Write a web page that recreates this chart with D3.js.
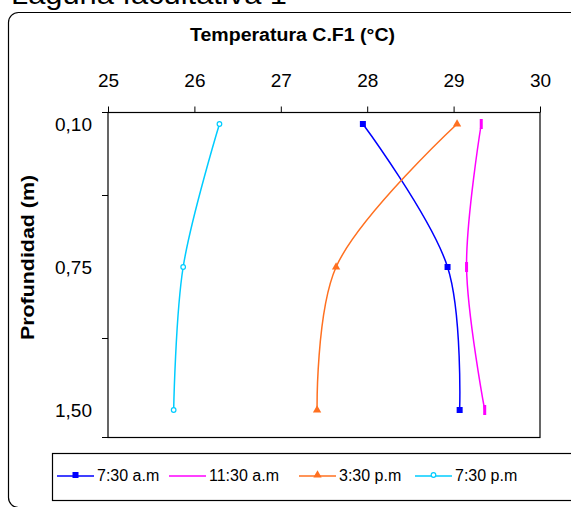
<!DOCTYPE html>
<html><head><meta charset="utf-8">
<script src="https://cdn.jsdelivr.net/npm/d3@7"></script>
<style>body{margin:0;background:#fff}svg{display:block}text{font-family:"Liberation Sans",Arial,sans-serif}</style>
</head><body>
<svg id="c" width="571" height="507"></svg>
<script>
const depths = ["0,10", "0,75", "1,50"];
const xTicks = [25, 26, 27, 28, 29, 30];
const s0730am = [27.95, 28.93, 29.07];
const s1130am = [29.32, 29.15, 29.36];
const s0330pm = [29.04, 27.64, 27.42];
const s0730pm = [26.29, 25.87, 25.76];
const seriesNames = ["7:30 a.m", "11:30 a.m", "3:30 p.m", "7:30 p.m"];
const seriesColors = ["#0000ff", "#ff00ff", "#ff7020", "#00ccff"];
const seriesMarkers = ["square", "bar", "triangle", "circle"];
const seriesData = [s0730am, s1130am, s0330pm, s0730pm];

const svg = d3.select("#c");
const L = 108, R = 540, T = 112.5, B = 437.5;
const x = d3.scaleLinear().domain([25, 30]).range([L, R]);
const y = d3.scalePoint().domain(depths).range([124, 410]);

// top cut-off heading
svg.append("text").attr("x", 11).attr("y", 4).attr("font-size", 28)
  .attr("textLength", 276).attr("lengthAdjust", "spacingAndGlyphs").attr("fill", "#000").text("Laguna facultativa 1");

// outer rounded border
svg.append("rect").attr("x", 8.5).attr("y", 12.5).attr("width", 600).attr("height", 495)
  .attr("rx", 10).attr("fill", "none").attr("stroke", "#000").attr("stroke-width", 1.2);

// title
svg.append("text").attr("x", 292.5).attr("y", 41).attr("text-anchor", "middle")
  .attr("font-size", 18).attr("font-weight", "bold")
  .attr("textLength", 205).attr("lengthAdjust", "spacingAndGlyphs").text("Temperatura C.F1 (°C)");

// plot border
svg.append("rect").attr("x", L).attr("y", T).attr("width", R - L).attr("height", B - T)
  .attr("fill", "#fff").attr("stroke", "#000").attr("stroke-width", 1.2);

// x axis on top
const xa = svg.append("g").attr("transform", `translate(0,${T})`)
  .call(d3.axisTop(x).tickValues(xTicks).tickSize(6).tickPadding(20).tickFormat(d3.format("d")));
xa.select(".domain").remove();
xa.selectAll("line").attr("stroke", "#000");
xa.selectAll("text").attr("font-size", 19).attr("font-family", "Liberation Sans, Arial, sans-serif").attr("fill", "#000");

// y axis (categories, ticks between categories)
const ya = svg.append("g").attr("transform", `translate(${L},0)`)
  .call(d3.axisLeft(y).tickSize(0).tickPadding(16));
ya.select(".domain").remove();
ya.selectAll("text").attr("font-size", 19).attr("font-family", "Liberation Sans, Arial, sans-serif").attr("fill", "#000");
const mids = [T];
for (let i = 0; i < depths.length - 1; i++) mids.push((y(depths[i]) + y(depths[i + 1])) / 2);
mids.push(B);
svg.append("g").selectAll("line").data(mids).join("line")
  .attr("x1", L - 6).attr("x2", L).attr("y1", d => d).attr("y2", d => d).attr("stroke", "#000");

svg.append("text").attr("transform", `translate(33.5,257.5) rotate(-90)`)
  .attr("text-anchor", "middle").attr("font-size", 18).attr("font-weight", "bold")
  .attr("textLength", 165).attr("lengthAdjust", "spacingAndGlyphs").text("Profundidad (m)");

// lines
const line = d3.line().x(d => x(d.v)).y(d => y(d.d)).curve(d3.curveCatmullRom.alpha(0.5));
function marker(g, type, color, cx, cy) {
  if (type === "square") g.append("rect").attr("x", cx - 3).attr("y", cy - 3).attr("width", 6).attr("height", 6).attr("fill", color);
  else if (type === "bar") g.append("rect").attr("x", cx - 1.5).attr("y", cy - 5).attr("width", 3).attr("height", 10).attr("fill", color);
  else if (type === "triangle") g.append("path").attr("d", d3.symbol(d3.symbolTriangle, 30)()).attr("transform", `translate(${cx},${cy})`).attr("fill", color);
  else if (type === "circle") g.append("circle").attr("cx", cx).attr("cy", cy).attr("r", 2.3).attr("fill", "#fff").attr("stroke", color).attr("stroke-width", 1.2);
}
seriesData.forEach((vals, i) => {
  const pts = vals.map((v, j) => ({ v, d: depths[j] }));
  const g = svg.append("g");
  g.append("path").attr("d", line(pts)).attr("fill", "none").attr("stroke", seriesColors[i]).attr("stroke-width", 1.5);
  pts.forEach(p => marker(g, seriesMarkers[i], seriesColors[i], x(p.v), y(p.d)));
});

// legend
svg.append("rect").attr("x", 52.5).attr("y", 453.5).attr("width", 560).attr("height", 47)
  .attr("fill", "#fff").attr("stroke", "#000").attr("stroke-width", 1.2);
const lx = [57, 169, 299, 415];
seriesNames.forEach((n, i) => {
  const g = svg.append("g").attr("transform", `translate(${lx[i]},476)`);
  g.append("line").attr("x1", 0).attr("x2", 37).attr("y1", 0).attr("y2", 0).attr("stroke", seriesColors[i]).attr("stroke-width", 1.5);
  if (seriesMarkers[i] !== "bar") marker(g, seriesMarkers[i], seriesColors[i], 18.5, -1);
  g.append("text").attr("x", 40).attr("y", 5).attr("font-size", 16).text(n);
});
</script>
</body></html>
